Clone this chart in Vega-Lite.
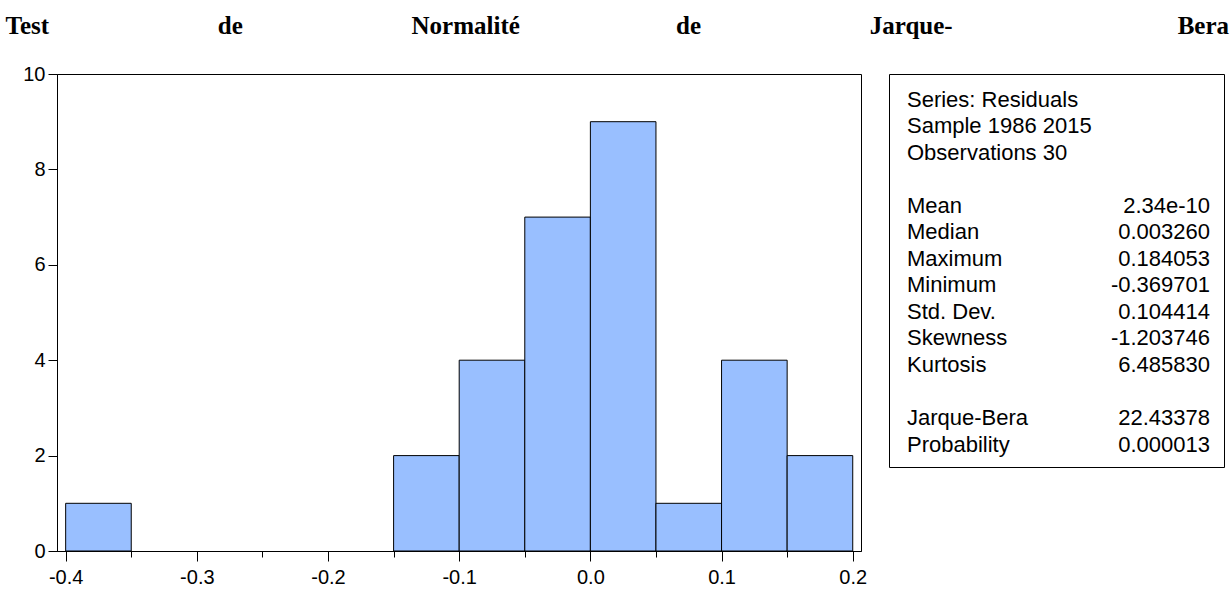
{
  "$schema": "https://vega.github.io/schema/vega-lite/v6.json",
  "padding": {"left": 5, "top": 13, "right": 0, "bottom": 0},
  "background": "white",
  "title": {
    "text": "Test\u00a0\u00a0\u00a0\u00a0\u00a0\u00a0\u00a0\u00a0\u00a0\u00a0\u00a0\u00a0\u00a0\u00a0\u00a0\u00a0\u00a0\u00a0\u00a0\u00a0\u00a0\u00a0\u00a0\u00a0\u00a0\u00a0\u00a0de\u00a0\u00a0\u00a0\u00a0\u00a0\u00a0\u00a0\u00a0\u00a0\u00a0\u00a0\u00a0\u00a0\u00a0\u00a0\u00a0\u00a0\u00a0\u00a0\u00a0\u00a0\u00a0\u00a0\u00a0\u00a0\u00a0\u00a0Normalité\u00a0\u00a0\u00a0\u00a0\u00a0\u00a0\u00a0\u00a0\u00a0\u00a0\u00a0\u00a0\u00a0\u00a0\u00a0\u00a0\u00a0\u00a0\u00a0\u00a0\u00a0\u00a0\u00a0\u00a0\u00a0de\u00a0\u00a0\u00a0\u00a0\u00a0\u00a0\u00a0\u00a0\u00a0\u00a0\u00a0\u00a0\u00a0\u00a0\u00a0\u00a0\u00a0\u00a0\u00a0\u00a0\u00a0\u00a0\u00a0\u00a0\u00a0\u00a0\u00a0Jarque-\u00a0\u00a0\u00a0\u00a0\u00a0\u00a0\u00a0\u00a0\u00a0\u00a0\u00a0\u00a0\u00a0\u00a0\u00a0\u00a0\u00a0\u00a0\u00a0\u00a0\u00a0\u00a0\u00a0\u00a0\u00a0\u00a0\u00a0\u00a0\u00a0\u00a0\u00a0\u00a0\u00a0\u00a0\u00a0\u00a0Bera",
    "font": "Liberation Serif",
    "fontSize": 25,
    "fontWeight": "bold",
    "color": "black",
    "anchor": "start",
    "frame": "bounds",
    "offset": 25
  },
  "datasets": {
    "bins": [
      {"bin_start": -0.4, "bin_end": -0.35, "count": 1},
      {"bin_start": -0.15, "bin_end": -0.1, "count": 2},
      {"bin_start": -0.1, "bin_end": -0.05, "count": 4},
      {"bin_start": -0.05, "bin_end": 0.0, "count": 7},
      {"bin_start": 0.0, "bin_end": 0.05, "count": 9},
      {"bin_start": 0.05, "bin_end": 0.1, "count": 1},
      {"bin_start": 0.1, "bin_end": 0.15, "count": 4},
      {"bin_start": 0.15, "bin_end": 0.2, "count": 2}
    ],
    "stats": [
      {"line": 0, "label": "Series: Residuals", "value": ""},
      {"line": 1, "label": "Sample 1986 2015", "value": ""},
      {"line": 2, "label": "Observations 30", "value": ""},
      {"line": 4, "label": "Mean", "value": "2.34e-10"},
      {"line": 5, "label": "Median", "value": "0.003260"},
      {"line": 6, "label": "Maximum", "value": "0.184053"},
      {"line": 7, "label": "Minimum", "value": "-0.369701"},
      {"line": 8, "label": "Std. Dev.", "value": "0.104414"},
      {"line": 9, "label": "Skewness", "value": "-1.203746"},
      {"line": 10, "label": "Kurtosis", "value": "6.485830"},
      {"line": 12, "label": "Jarque-Bera", "value": "22.43378"},
      {"line": 13, "label": "Probability", "value": "0.000013"}
    ]
  },
  "config": {
    "view": {"stroke": "black", "strokeWidth": 1},
    "font": "Liberation Sans",
    "axis": {
      "domainColor": "black",
      "tickColor": "black",
      "labelColor": "black",
      "labelFont": "Liberation Sans",
      "labelFontSize": 20,
      "grid": false,
      "title": null
    }
  },
  "bounds": "flush",
  "spacing": 28,
  "hconcat": [
    {
      "width": 804,
      "height": 477,
      "data": {"name": "bins"},
      "mark": {"type": "bar", "fill": "#99BFFF", "stroke": "black", "strokeWidth": 1},
      "encoding": {
        "x": {
          "field": "bin_start",
          "type": "quantitative",
          "scale": {"domain": [-0.4066, 0.2063], "nice": false, "zero": false},
          "axis": {
            "values": [-0.4, -0.35, -0.3, -0.25, -0.2, -0.15, -0.1, -0.05, 0, 0.05, 0.1, 0.15, 0.2],
            "labelExpr": "abs(datum.value*10 - round(datum.value*10)) < 0.001 ? replace(format(datum.value, '.1f'), '\u2212', '-') : ''",
            "tickSize": {"condition": {"test": "abs(datum.value*10 - round(datum.value*10)) < 0.001", "value": 10}, "value": 6},
            "labelPadding": 6,
            "labelFlush": false
          }
        },
        "x2": {"field": "bin_end"},
        "y": {
          "field": "count",
          "type": "quantitative",
          "scale": {"domain": [0, 10], "nice": false},
          "axis": {
            "values": [0, 2, 4, 6, 8, 10],
            "tickSize": 9,
            "labelPadding": 3,
            "minExtent": 51,
            "maxExtent": 51,
            "labelFlush": false
          }
        },
        "y2": {"datum": 0}
      }
    },
    {
      "width": 335,
      "height": 393,
      "data": {"name": "stats"},
      "encoding": {
        "y": {
          "field": "line",
          "type": "quantitative",
          "scale": {"domain": [-0.981, 13.849], "nice": false, "zero": false, "reverse": true},
          "axis": null
        }
      },
      "layer": [
        {
          "mark": {"type": "text", "align": "left", "baseline": "middle", "fontSize": 22, "font": "Liberation Sans", "color": "black"},
          "encoding": {
            "x": {"datum": 0, "type": "quantitative", "scale": {"domain": [-0.0594, 1.0462], "nice": false, "zero": false}, "axis": null},
            "text": {"field": "label"}
          }
        },
        {
          "mark": {"type": "text", "align": "right", "baseline": "middle", "fontSize": 22, "font": "Liberation Sans", "color": "black"},
          "encoding": {
            "x": {"datum": 1, "type": "quantitative", "scale": {"domain": [-0.0594, 1.0462], "nice": false, "zero": false}, "axis": null},
            "text": {"field": "value"}
          }
        }
      ]
    }
  ]
}
